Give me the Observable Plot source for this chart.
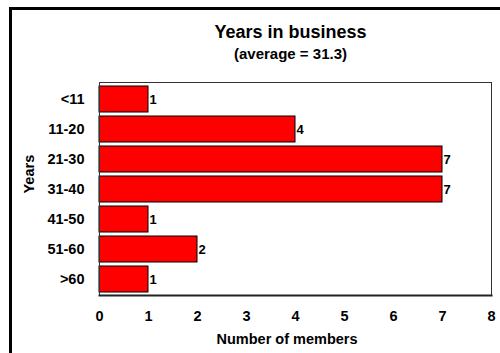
<!DOCTYPE html>
<html>
<head>
<meta charset="utf-8">
<script src="https://cdn.jsdelivr.net/npm/d3@7"></script>
<script src="https://cdn.jsdelivr.net/npm/@observablehq/plot@0.6"></script>
<style>
  html, body { margin: 0; padding: 0; background: #fff; }
  #wrap { position: relative; width: 500px; height: 353px; overflow: hidden; }
  #outer { position: absolute; left: 9px; top: 7px; width: 600px; height: 600px;
           border-top: 3px solid #000; border-left: 3px solid #000; box-sizing: border-box; }
  #chart { position: absolute; left: 0; top: 0; }
  svg { font-family: "Liberation Sans", Arial, sans-serif; }
</style>
</head>
<body>
<div id="wrap"><div id="outer"></div><div id="chart"></div></div>
<script>
const categories = ["<11", "11-20", "21-30", "31-40", "41-50", "51-60", ">60"];
const counts = [1, 4, 7, 7, 1, 2, 1];
const xTicks = [0, 1, 2, 3, 4, 5, 6, 7, 8];
const titleText = "Years in business";
const subtitleText = "(average = 31.3)";
const xLabel = "Number of members";
const yLabel = "Years";

const data = categories.map((c, i) => ({range: c, count: counts[i]}));

const chart = Plot.plot({
  width: 500,
  height: 353,
  marginLeft: 99,
  marginRight: 9,
  marginTop: 82,
  marginBottom: 58,
  style: {fontFamily: '"Liberation Sans", Arial, sans-serif', background: "transparent", overflow: "visible"},
  x: {domain: [0, 8], ticks: xTicks, label: null},
  y: {domain: categories, paddingInner: 0.14, paddingOuter: 0.07, label: null},
  marks: [
    Plot.barX(data, {x: "count", y: "range", fill: "#ff0000", stroke: "#000", strokeWidth: 1}),
    Plot.frame({stroke: "#333", strokeWidth: 1}),
    Plot.frame({anchor: "bottom", stroke: "#222", strokeWidth: 2}),
    Plot.axisX({ticks: xTicks, tickSize: 0, tickPadding: 15, fontSize: 14.5, fontWeight: "bold", label: null, tickFormat: d => String(d)}),
    Plot.axisY({tickSize: 0, tickPadding: 15, fontSize: 14.5, fontWeight: "bold", label: null}),
    Plot.text(data, {x: "count", y: "range", text: d => String(d.count), textAnchor: "start", dx: 1, fontSize: 13, fontWeight: "bold", fill: "#000"}),
    Plot.text([titleText], {frameAnchor: "top", text: d => d, dx: -5, dy: -44.5, lineAnchor: "bottom", fontSize: 18, fontWeight: "bold", fill: "#000"}),
    Plot.text([subtitleText], {frameAnchor: "top", text: d => d, dx: -5, dy: -24, lineAnchor: "bottom", fontSize: 15, fontWeight: "bold", fill: "#000"}),
    Plot.text([xLabel], {frameAnchor: "bottom", text: d => d, dx: -8.5, dy: 48, lineAnchor: "bottom", fontSize: 14.5, fontWeight: "bold", fill: "#000"}),
    Plot.text([yLabel], {frameAnchor: "left", text: d => d, rotate: -90, dx: -70, dy: 4.5, fontSize: 14.5, fontWeight: "bold", fill: "#000"})
  ]
});
document.getElementById("chart").appendChild(chart);
</script>
</body>
</html>
